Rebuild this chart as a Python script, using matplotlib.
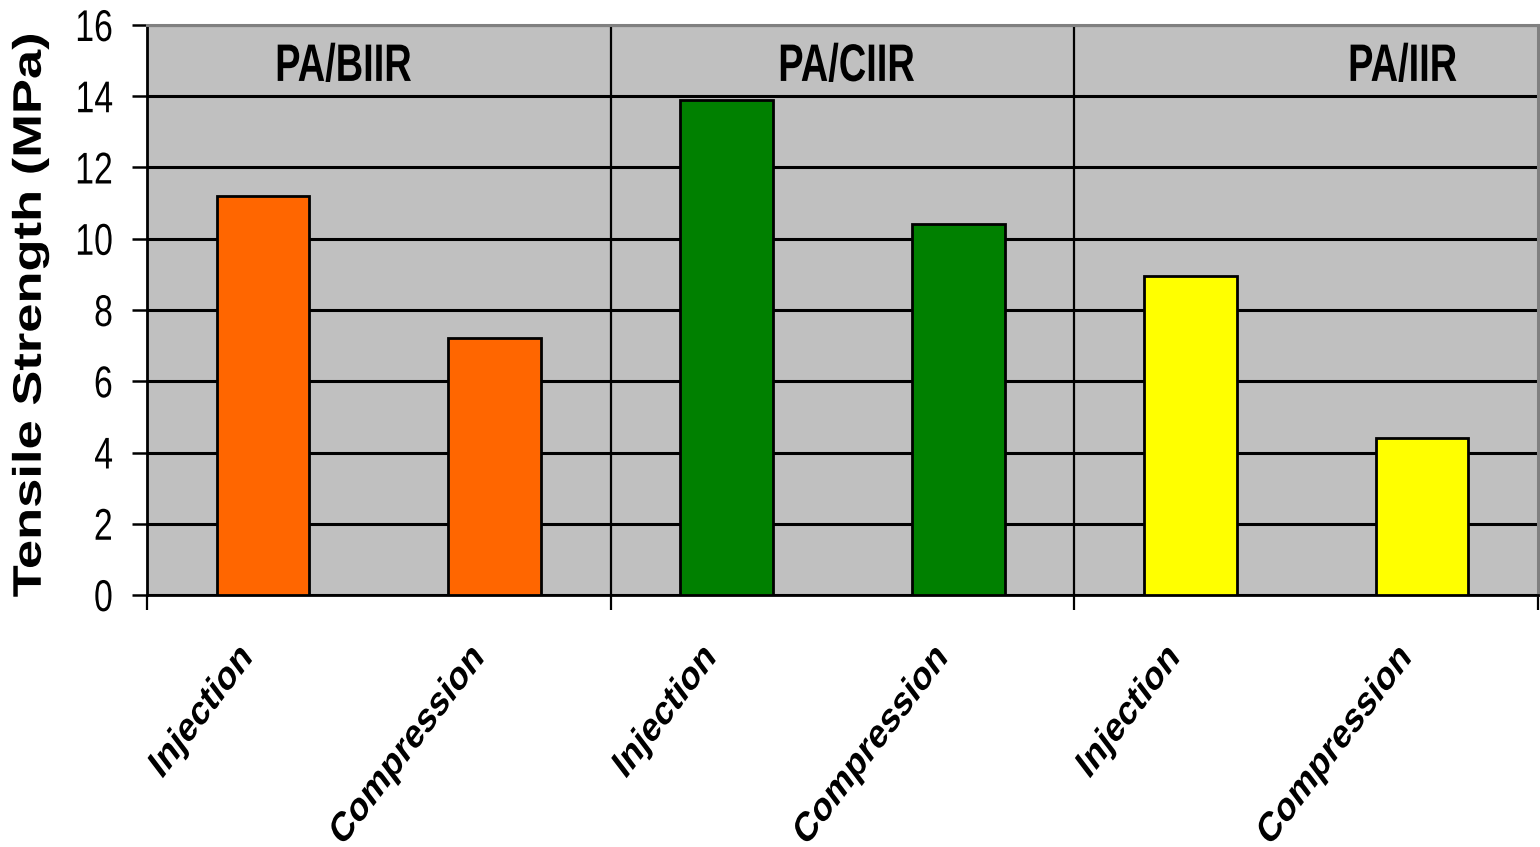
import matplotlib
matplotlib.use("Agg")
import matplotlib.pyplot as plt
from matplotlib.ticker import FixedLocator, NullLocator
from matplotlib.patheffects import AbstractPathEffect
from matplotlib.transforms import Affine2D

# Tensile strength (MPa) for each blend / processing route
blends = ["PA/BIIR", "PA/CIIR", "PA/IIR"]
methods = ["Injection", "Compression"]
strength_biir = [11.2, 7.2]
strength_ciir = [13.9, 10.4]
strength_iir = [8.95, 4.4]
blend_colors = ["#FF6600", "#008000", "#FFFF00"]
y_ticks = [0, 2, 4, 6, 8, 10, 12, 14, 16]

FONT = ["Liberation Sans", "DejaVu Sans"]
SQUEEZE = 0.76  # horizontal glyph compression


class Squeeze(AbstractPathEffect):
    """Compress glyphs horizontally (in screen space) about an anchor on the text."""

    def __init__(self, sx=SQUEEZE, hfrac=0.5):
        super().__init__()
        self.sx = sx
        self.hfrac = hfrac

    def draw_path(self, renderer, gc, tpath, affine, rgbFace=None):
        ext = tpath.get_extents()
        px = ext.x0 + self.hfrac * (ext.x1 - ext.x0)
        py = 0.5 * (ext.y0 + ext.y1)
        cx, cy = affine.transform((px, py))
        t = affine + Affine2D().translate(-cx, -cy).scale(self.sx, 1.0).translate(cx, cy)
        renderer.draw_path(gc, tpath, t, rgbFace)


fig = plt.figure(figsize=(15.4, 8.47), dpi=100)
ax = fig.add_axes([147 / 1540, 1 - 595 / 847, (1538 - 147) / 1540, (595 - 25) / 847])
ax.set_facecolor("#C0C0C0")

values = [strength_biir, strength_ciir, strength_iir]
labels = []
xs = []
for g, (vals, col) in enumerate(zip(values, blend_colors)):
    pos = [2 * g + i for i in range(len(vals))]
    ax.bar(pos, vals, width=0.40, color=col, edgecolor="black", linewidth=2, zorder=3)
    xs += pos
    labels += methods

ax.set_xlim(-0.5, 5.5)
ax.set_ylim(0, 16)

# horizontal gridlines and group separators
ax.set_yticks(y_ticks)
ax.yaxis.grid(True, color="black", linewidth=2.2, zorder=1)
ax.set_axisbelow(True)
for xsep in (1.5, 3.5):
    ax.axvline(xsep, color="black", linewidth=1.6, zorder=2)

# group boundary ticks below the axis
ax.xaxis.set_major_locator(FixedLocator([-0.5, 1.5, 3.5, 5.5]))
ax.xaxis.set_minor_locator(NullLocator())
ax.set_xticklabels([])
ax.tick_params(axis="x", which="major", direction="out", length=11, width=1.6, color="black")

# slanted category labels under each bar
for x, lab in zip(xs, labels):
    ax.text(x - 0.065, -0.099, lab, transform=ax.get_xaxis_transform(),
            rotation=45, rotation_mode="anchor", ha="right", va="center",
            fontsize=30, fontweight="bold", family=FONT, clip_on=False,
            path_effects=[Squeeze(hfrac=1.0)])

ax.tick_params(axis="y", direction="out", length=10.8, width=1.8, pad=13.5, labelsize=32)
for t in ax.get_yticklabels():
    t.set_family(FONT)
    t.set_path_effects([Squeeze(hfrac=1.0)])

for side in ("left", "bottom"):
    ax.spines[side].set_color("black")
    ax.spines[side].set_linewidth(2)
for side in ("top", "right"):
    ax.spines[side].set_color("#808080")
    ax.spines[side].set_linewidth(2.2)

# blend names inside the top band
title_x = [0.345, 2.515, 4.914]
for name, tx in zip(blends, title_x):
    ax.text(tx, 14.43, name, ha="center", va="baseline", fontsize=38, fontweight="bold",
            family=FONT, zorder=4, path_effects=[Squeeze(sx=0.72, hfrac=0.5)])

fig.text(30 / 1540, 1 - 315 / 847, "Tensile Strength (MPa)", rotation=90,
         ha="center", va="center", fontsize=37.8, fontweight="bold", family=FONT,
         path_effects=[Squeeze(hfrac=0.5)])

fig.savefig("out.png", dpi=100)
